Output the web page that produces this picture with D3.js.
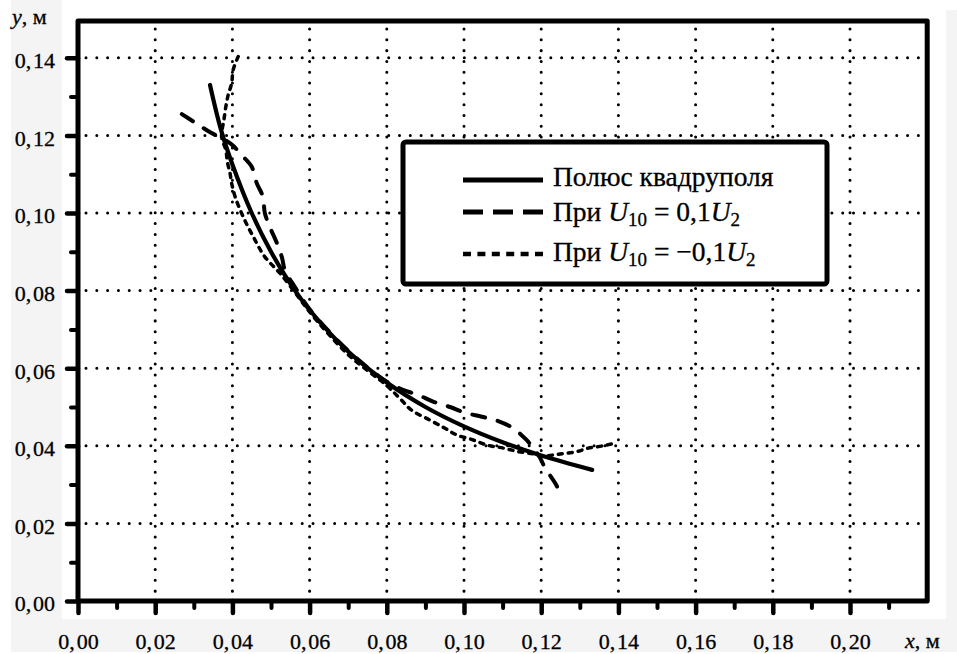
<!DOCTYPE html>
<html><head><meta charset="utf-8">
<script src="https://cdn.jsdelivr.net/npm/d3@7"></script>
<style>body{margin:0;background:#fff} svg{display:block} text{font-family:"Liberation Serif","Times New Roman",serif;stroke:#000;stroke-width:0.3px;}</style>
</head><body><svg id="c" width="957" height="654"></svg>
<script>
// ---- data ----
const xTicks = [0.00,0.02,0.04,0.06,0.08,0.10,0.12,0.14,0.16,0.18,0.20];
const xTickLabels = ["0,00","0,02","0,04","0,06","0,08","0,10","0,12","0,14","0,16","0,18","0,20"];
const xMinor = [0.01,0.03,0.05,0.07,0.09,0.11,0.13,0.15,0.17,0.19,0.21];
const yTicks = [0.00,0.02,0.04,0.06,0.08,0.10,0.12,0.14];
const yTickLabels = ["0,00","0,02","0,04","0,06","0,08","0,10","0,12","0,14"];
const yMinor = [0.01,0.03,0.05,0.07,0.09,0.11,0.13];

const poleX = [0.0342,0.0370,0.0400,0.0450,0.0500,0.0550,0.0600,0.0700,0.0800,0.0900,0.1000,0.1100,0.1200,0.1332];
const poleY = [0.1330,0.1216,0.1125,0.1000,0.0900,0.0818,0.0750,0.0643,0.0563,0.0500,0.0450,0.0409,0.0375,0.0338];

const plusX = [0.0269,0.0303,0.0346,0.0372,0.0400,0.0424,0.0450,0.0463,0.0479,0.0484,0.0497,0.0515,0.0528,0.0536,0.0562,0.0600,0.0700,0.0800,0.0840,0.0881,0.0920,0.0964,0.1003,0.1046,0.1085,0.1126,0.1162,0.1180,0.1197,0.1210,0.1236,0.1256];
const plusY = [0.1255,0.1233,0.1206,0.1193,0.1175,0.1149,0.1119,0.1077,0.1042,0.1000,0.0964,0.0923,0.0887,0.0853,0.0809,0.0752,0.0645,0.0565,0.0545,0.0531,0.0514,0.0500,0.0485,0.0475,0.0465,0.0446,0.0415,0.0393,0.0369,0.0343,0.0304,0.0265];

const minusX = [0.0415,0.0402,0.0398,0.0389,0.0383,0.0378,0.0372,0.0383,0.0387,0.0394,0.0398,0.0407,0.0428,0.0454,0.0484,0.0523,0.0570,0.0600,0.0700,0.0800,0.0834,0.0864,0.0912,0.0951,0.0981,0.1024,0.1059,0.1102,0.1141,0.1180,0.1206,0.1249,0.1292,0.1322,0.1361,0.1395];
const minusY = [0.1403,0.1369,0.1334,0.1304,0.1274,0.1240,0.1197,0.1162,0.1132,0.1102,0.1077,0.1042,0.0990,0.0939,0.0887,0.0845,0.0785,0.0745,0.0635,0.0555,0.0522,0.0492,0.0466,0.0445,0.0428,0.0415,0.0402,0.0394,0.0385,0.0379,0.0374,0.0379,0.0385,0.0394,0.0400,0.0408];

const seriesNames = ["Полюс квадруполя", "При U10 = 0,1U2", "При U10 = −0,1U2"];

// ---- drawing ----
const svg = d3.select("#c");
const FONT = '"Liberation Serif","Times New Roman",serif';
const x = d3.scaleLinear().domain([0, 0.22]).range([78, 927.2]);
const y = d3.scaleLinear().domain([0, 0.15]).range([601, 19]);

// background
svg.append("rect").attr("x",11).attr("y",0).attr("width",946).attr("height",652).attr("fill","#f4f4f4");
svg.append("rect").attr("x",62).attr("y",0).attr("width",884).attr("height",619).attr("fill","#fff");
svg.append("rect").attr("x",946).attr("y",0).attr("width",11).attr("height",10).attr("fill","#fff");

const fmt = s => s.replace(",", ",\u200A");

// grid
const grid = svg.append("g").attr("stroke","#000").attr("stroke-width",3)
  .attr("stroke-linecap","round").attr("stroke-dasharray","0.01,10.8").attr("fill","none");
const frameTop = 21;
xTicks.filter(d=>d>0).forEach(d=>{
  grid.append("line").attr("x1",x(d)).attr("x2",x(d)).attr("y1",frameTop+8).attr("y2",y(0)-6);
});
yTicks.filter(d=>d>0).forEach(d=>{
  grid.append("line").attr("y1",y(d)).attr("y2",y(d)).attr("x1",x(0)+8).attr("x2",x(0.22)-6);
});

// axes
function styleAxis(g, w){
  g.attr("font-family", null).attr("font-size", null);
  g.select(".domain").remove();
  g.selectAll(".tick line").attr("stroke","#000").attr("stroke-width",w).attr("stroke-linecap","round");
}
const xMaj = svg.append("g").attr("transform",`translate(0,${y(0)})`)
  .call(d3.axisBottom(x).tickValues(xTicks).tickSize(12).tickPadding(20)
    .tickFormat((d,i)=>fmt(xTickLabels[i])));
styleAxis(xMaj,4.5);
xMaj.selectAll("text").style("font-family",FONT).style("font-size","22px").attr("fill","#000");
const xMin = svg.append("g").attr("transform",`translate(0,${y(0)})`)
  .call(d3.axisBottom(x).tickValues(xMinor).tickSize(7).tickFormat(""));
styleAxis(xMin,4);

const yMaj = svg.append("g").attr("transform",`translate(${x(0)},0)`)
  .call(d3.axisLeft(y).tickValues(yTicks).tickSize(11).tickPadding(12)
    .tickFormat((d,i)=>fmt(yTickLabels[i])));
styleAxis(yMaj,4.5);
yMaj.selectAll("text").style("font-family",FONT).style("font-size","22px").attr("fill","#000").attr("dy","0.45em");
const yMin = svg.append("g").attr("transform",`translate(${x(0)},0)`)
  .call(d3.axisLeft(y).tickValues(yMinor).tickSize(7).tickFormat(""));
styleAxis(yMin,4);

// frame
svg.append("rect").attr("x",x(0)).attr("y",frameTop).attr("width",x(0.22)-x(0)).attr("height",y(0)-frameTop)
  .attr("fill","none").attr("stroke","#000").attr("stroke-width",5).attr("stroke-linejoin","round");

// axis titles
svg.append("text").attr("x",12).attr("y",24).style("font-family",FONT).style("font-size","22px")
  .html('<tspan font-style="italic">y</tspan>,  м');
svg.append("text").attr("x",905).attr("y",648).style("font-family",FONT).style("font-size","22px")
  .html('<tspan font-style="italic">x</tspan>,  м');

// curves
const line = d3.line().x(d=>x(d[0])).y(d=>y(d[1])).curve(d3.curveCatmullRom.alpha(0.5));
const curves = [
  {xs: poleX, ys: poleY, w: 4.2, dash: null},
  {xs: plusX, ys: plusY, w: 4, dash: "13,13"},
  {xs: minusX, ys: minusY, w: 3.5, dash: "4,6"}
];
curves.forEach(c=>{
  const pts = c.xs.map((v,i)=>[v,c.ys[i]]);
  const p = svg.append("path").attr("d",line(pts)).attr("fill","none").attr("stroke","#000")
    .attr("stroke-width",c.w).attr("stroke-linecap","round").attr("stroke-linejoin","round");
  if(c.dash) p.attr("stroke-dasharray",c.dash);
});

// legend
const lg = svg.append("g");
lg.append("rect").attr("x",403).attr("y",142).attr("width",424).attr("height",142).attr("rx",3)
  .attr("fill","#fff").attr("stroke","#000").attr("stroke-width",5);
const rows = [
  {ly:180, dash:null, w:5},
  {ly:212, dash:"20,10", w:5},
  {ly:254, dash:"8,6.4", w:4.5}
];
rows.forEach((r,i)=>{
  const l = lg.append("line").attr("x1",463).attr("x2",543).attr("y1",r.ly).attr("y2",r.ly)
    .attr("stroke","#000").attr("stroke-width",r.w);
  if(r.dash) l.attr("stroke-dasharray",r.dash);
});
const T = (yy)=>lg.append("text").attr("x",553).attr("y",yy).style("font-family",FONT).style("font-size","27.5px").attr("fill","#000");
T(186).text(seriesNames[0]);
const t2 = T(221);
t2.append("tspan").text("При ");
t2.append("tspan").attr("font-style","italic").text("U");
t2.append("tspan").style("font-size","19px").attr("dy",5).text("10");
t2.append("tspan").attr("dy",-5).text(" = 0,1");
t2.append("tspan").attr("font-style","italic").text("U");
t2.append("tspan").style("font-size","19px").attr("dy",5).text("2");
const t3 = T(261);
t3.append("tspan").text("При ");
t3.append("tspan").attr("font-style","italic").text("U");
t3.append("tspan").style("font-size","19px").attr("dy",5).text("10");
t3.append("tspan").attr("dy",-5).text(" = −0,1");
t3.append("tspan").attr("font-style","italic").text("U");
t3.append("tspan").style("font-size","19px").attr("dy",5).text("2");
</script></body></html>
